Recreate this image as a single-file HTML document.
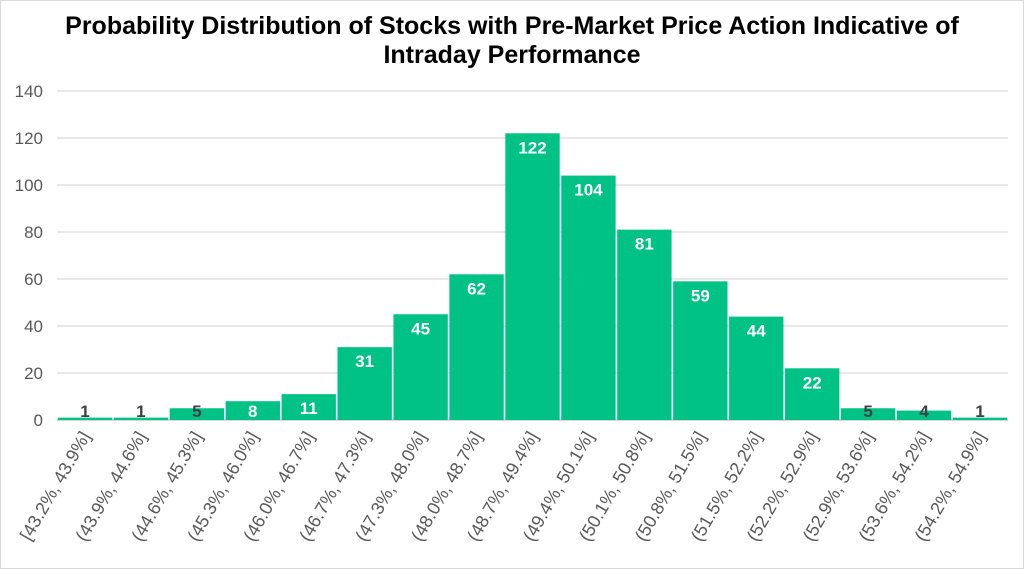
<!DOCTYPE html>
<html><head><meta charset="utf-8"><style>
html,body{margin:0;padding:0;background:#fff;}
svg{display:block;font-family:"Liberation Sans",sans-serif;}
</style></head><body>
<svg id="chart" width="1024" height="569">
<rect x="0.5" y="0.5" width="1023" height="568" fill="#fff" stroke="#d9d9d9"/>
<text x="512" y="34" text-anchor="middle" font-size="25" font-weight="bold" fill="#000">Probability Distribution of Stocks with Pre-Market Price Action Indicative of</text>
<text x="512" y="63" text-anchor="middle" font-size="25" font-weight="bold" fill="#000">Intraday Performance</text>
<g id="grid"></g><g id="bars"></g><g id="labels"></g><g id="xlabels"></g>
</svg>
<script>
const categories=["[43.2%, 43.9%]","(43.9%, 44.6%]","(44.6%, 45.3%]","(45.3%, 46.0%]","(46.0%, 46.7%]","(46.7%, 47.3%]","(47.3%, 48.0%]","(48.0%, 48.7%]","(48.7%, 49.4%]","(49.4%, 50.1%]","(50.1%, 50.8%]","(50.8%, 51.5%]","(51.5%, 52.2%]","(52.2%, 52.9%]","(52.9%, 53.6%]","(53.6%, 54.2%]","(54.2%, 54.9%]"];
const values=[1,1,5,8,11,31,45,62,122,104,81,59,44,22,5,4,1];
const yTicks=[0,20,40,60,80,100,120,140];
const NS="http://www.w3.org/2000/svg";
const x0=57,x1=1008,y0=420,y1=91,yMax=140;
const bw=(x1-x0)/categories.length;
function yS(v){return y0-(v/yMax)*(y0-y1);}
function xS(i){return x0+i*bw;}
function mk(t,a,p){const e=document.createElementNS(NS,t);for(const k in a)e.setAttribute(k,a[k]);document.getElementById(p).appendChild(e);return e;}
yTicks.forEach(t=>{
 const l=mk('line',{x1:x0,x2:x1,y1:yS(t),y2:yS(t),stroke:t===0?'#bfbfbf':'#d9d9d9','stroke-width':1.3},'grid');
 
 
 const tx=mk('text',{x:43,y:yS(t)+6,'text-anchor':'end','font-size':17,fill:'#595959'},'grid');
 tx.textContent=t;
 
 
});
values.forEach((v,i)=>{
 const top=yS(v);
 const r=mk('rect',{x:xS(i)+0.8,y:top,width:bw-1.6,height:y0-top,fill:'#00c285'},'bars');
 
 
 const cy=Math.min(top+14,411);
 const t=mk('text',{x:xS(i)+bw/2,y:cy+6,'text-anchor':'middle','font-size':17,'font-weight':'bold',fill:v<=5?'#404040':'#fff'},'labels');
 t.textContent=v;
 
 
 const cx=xS(i)+bw/2+6, cy2=436;
 const xl=mk('text',{x:cx,y:cy2,'text-anchor':'end','font-size':18,fill:'#595959',transform:`rotate(-60 ${cx} ${cy2})`},'xlabels');
 xl.textContent=categories[i];
 
 
});
</script>
</body></html>
